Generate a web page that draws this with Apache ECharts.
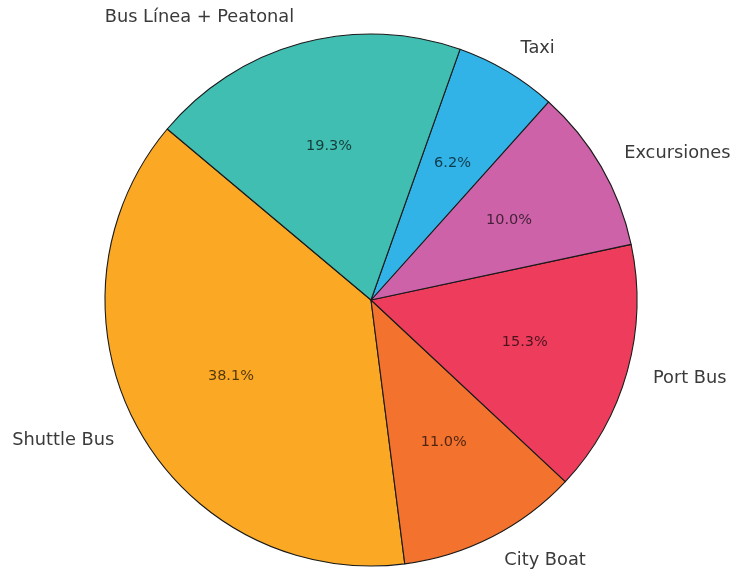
<!DOCTYPE html>
<html>
<head>
<meta charset="utf-8">
<script src="https://cdn.jsdelivr.net/npm/echarts@6/dist/echarts.min.js"></script>
<style>
  html, body { margin: 0; padding: 0; background: #ffffff; }
  #chart { width: 734px; height: 572px; }
</style>
</head>
<body>
<div id="chart"></div>
<script>
// Transport mode shares (%), listed counterclockwise from the start angle
const categories = ['Shuttle Bus', 'City Boat', 'Port Bus', 'Excursiones', 'Taxi', 'Bus Línea + Peatonal'];
const shares = [38.1, 11.0, 15.3, 10.0, 6.2, 19.3];
const sliceColors = ['#FBA925', '#F2722E', '#EE3D5C', '#CD62A8', '#31B3E8', '#40BEB2'];

const R = 266;            // pie radius in px
const CENTER = [371, 300];
const FONT = 'DejaVu Sans';

const pieData = categories.map((name, i) => ({
  name: name,
  value: shares[i],
  itemStyle: { color: sliceColors[i] }
}));

const chart = echarts.init(document.getElementById('chart'), null, { renderer: 'canvas' });

chart.setOption({
  animation: false,
  series: [
    {
      // slices with category names placed just outside the rim
      type: 'pie',
      center: CENTER,
      radius: [0, R],
      startAngle: 140,
      clockwise: false,
      avoidLabelOverlap: false,
      silent: true,
      data: pieData,
      itemStyle: { borderColor: '#1a1a1a', borderWidth: 1.1 },
      label: {
        show: true,
        position: 'outside',
        distanceToLabelLine: 0,
        formatter: '{b}',
        fontFamily: FONT,
        fontSize: 17.8,
        color: '#3a3a3a'
      },
      labelLine: { show: false, length: R * 0.1, length2: 0 },
      emphasis: { disabled: true }
    },
    {
      // transparent ring carrying the percentage labels at 0.6 of the radius
      type: 'pie',
      center: CENTER,
      radius: [R * 1.2 - 6 - R, R],
      startAngle: 140,
      clockwise: false,
      avoidLabelOverlap: false,
      silent: true,
      data: categories.map((name, i) => ({ name: name, value: shares[i] })),
      itemStyle: { color: 'transparent', borderWidth: 0 },
      label: {
        show: true,
        position: 'inside',
        formatter: p => p.value.toFixed(1) + '%',
        fontFamily: FONT,
        fontSize: 14.5,
        color: 'rgba(0,0,0,0.68)'
      },
      labelLine: { show: false },
      emphasis: { disabled: true }
    }
  ]
});
</script>
</body>
</html>
